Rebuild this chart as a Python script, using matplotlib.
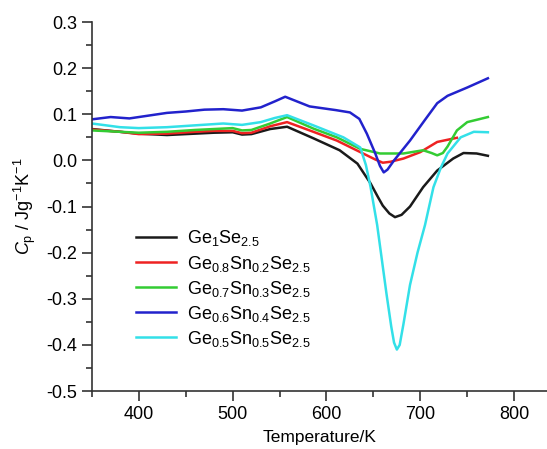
import numpy as np
import matplotlib.pyplot as plt
from matplotlib.ticker import MultipleLocator

plt.rcParams['font.family'] = ['Liberation Sans', 'DejaVu Sans']
plt.rcParams['mathtext.fontset'] = 'custom'
plt.rcParams['mathtext.rm'] = 'Liberation Sans'
plt.rcParams['mathtext.it'] = 'Liberation Sans:italic'

# temperature (K) and heat capacity readings (J g^-1 K^-1)
t_ge1 = [350, 380, 400, 430, 460, 480, 500, 510, 520, 540, 558, 586, 614, 633, 647, 655, 660, 667, 673, 680, 689, 695, 703, 718, 735, 746, 760, 772]
cp_ge1 = [0.068, 0.062, 0.058, 0.055, 0.058, 0.060, 0.061, 0.056, 0.057, 0.068, 0.073, 0.048, 0.022, -0.007, -0.050, -0.080, -0.098, -0.115, -0.123, -0.118, -0.100, -0.082, -0.058, -0.022, 0.004, 0.016, 0.015, 0.010]

t_ge08 = [350, 380, 400, 430, 460, 480, 500, 510, 520, 540, 558, 586, 611, 640, 652, 660, 668, 682, 700, 718, 739]
cp_ge08 = [0.067, 0.062, 0.057, 0.058, 0.062, 0.064, 0.064, 0.059, 0.060, 0.074, 0.083, 0.062, 0.043, 0.014, 0.002, -0.005, -0.003, 0.004, 0.018, 0.040, 0.049]

t_ge07 = [350, 380, 400, 430, 460, 480, 500, 510, 520, 540, 558, 586, 611, 636, 657, 682, 703, 712, 718, 724, 729, 739, 750, 772]
cp_ge07 = [0.065, 0.062, 0.060, 0.062, 0.066, 0.068, 0.070, 0.065, 0.066, 0.080, 0.094, 0.069, 0.050, 0.025, 0.015, 0.015, 0.022, 0.016, 0.011, 0.016, 0.030, 0.065, 0.083, 0.094]

t_ge06 = [350, 370, 390, 410, 430, 450, 470, 490, 510, 530, 545, 556, 582, 610, 625, 635, 643, 652, 657, 661, 665, 672, 689, 705, 718, 729, 750, 772]
cp_ge06 = [0.089, 0.094, 0.091, 0.097, 0.103, 0.106, 0.110, 0.111, 0.108, 0.115, 0.128, 0.138, 0.117, 0.109, 0.104, 0.090, 0.058, 0.015, -0.012, -0.026, -0.020, 0.000, 0.043, 0.088, 0.124, 0.140, 0.158, 0.178]

t_ge05 = [350, 380, 400, 430, 460, 490, 510, 530, 545, 558, 586, 618, 636, 642, 647, 654, 659, 664, 669, 672, 675, 678, 682, 689, 697, 705, 714, 722, 729, 743, 757, 772]
cp_ge05 = [0.080, 0.072, 0.070, 0.072, 0.076, 0.080, 0.077, 0.083, 0.092, 0.098, 0.076, 0.050, 0.028, -0.010, -0.058, -0.140, -0.215, -0.290, -0.360, -0.395, -0.410, -0.400, -0.355, -0.270, -0.200, -0.140, -0.058, -0.015, 0.015, 0.050, 0.062, 0.061]

labels = [r'Ge$_1$Se$_{2.5}$',
          r'Ge$_{0.8}$Sn$_{0.2}$Se$_{2.5}$',
          r'Ge$_{0.7}$Sn$_{0.3}$Se$_{2.5}$',
          r'Ge$_{0.6}$Sn$_{0.4}$Se$_{2.5}$',
          r'Ge$_{0.5}$Sn$_{0.5}$Se$_{2.5}$']
colors = ['#1a1a1a', '#ee2222', '#33cc33', '#2222cc', '#33e0e8']

fig = plt.figure(figsize=(5.47, 4.49), dpi=100)
ax = fig.add_axes([0.168, 0.129, 0.832, 0.822])

series = [(t_ge1, cp_ge1), (t_ge08, cp_ge08), (t_ge07, cp_ge07), (t_ge06, cp_ge06), (t_ge05, cp_ge05)]
for (t, cp), c, lab in zip(series, colors, labels):
    ax.plot(t, cp, color=c, lw=1.8, label=lab, solid_joinstyle='round')

ax.set_xlim(350, 835)
ax.set_ylim(-0.5, 0.3)
ax.xaxis.set_major_locator(MultipleLocator(100))
ax.xaxis.set_minor_locator(MultipleLocator(50))
ax.yaxis.set_minor_locator(MultipleLocator(0.05))
ax.set_yticks(np.arange(-0.5, 0.31, 0.1))
ax.set_yticklabels(['-0.5', '-0.4', '-0.3', '-0.2', '-0.1', '0.0', '0.1', '0.2', '0.3'])

ax.spines['top'].set_visible(False)
ax.spines['right'].set_visible(False)
for s in ['left', 'bottom']:
    ax.spines[s].set_linewidth(1.2)
    ax.spines[s].set_color('#333333')
ax.tick_params(which='major', length=7, width=1.2, labelsize=13, color='#333333')
ax.tick_params(which='minor', length=4, width=1.2, color='#333333')

ax.set_xlabel('Temperature/K', fontsize=12.5, labelpad=5)
ax.set_ylabel(r'$\mathit{C}_{\mathrm{p}}$ / Jg$^{-1}$K$^{-1}$', fontsize=13, labelpad=6)

ax.legend(loc='upper left', bbox_to_anchor=(0.078, 0.465), frameon=False, fontsize=13,
          handlelength=2.2, labelspacing=0.28, handletextpad=0.6, borderpad=0)

fig.savefig('out.png', dpi=100)
